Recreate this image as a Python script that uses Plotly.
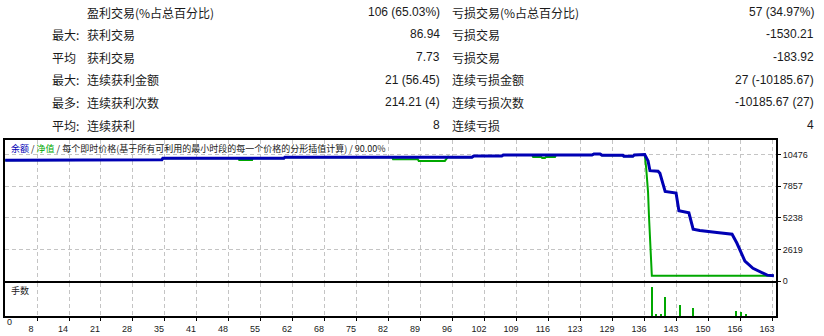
import plotly.graph_objects as go
import numpy as np

W, H = 824, 336

# ---- statistics table (top) ----
row_prefix = ["", "最大:", "平均", "最大:", "最多:", "平均:"]
win_labels = ["盈利交易(%占总百分比)", "获利交易", "获利交易", "连续获利金额", "连续获利次数", "连续获利"]
win_values = ["106 (65.03%)", "86.94", "7.73", "21 (56.45)", "214.21 (4)", "8"]
loss_labels = ["亏损交易(%占总百分比)", "亏损交易", "亏损交易", "连续亏损金额", "连续亏损次数", "连续亏损"]
loss_values = ["57 (34.97%)", "-1530.21", "-183.92", "27 (-10185.67)", "-10185.67 (27)", "4"]

# ---- balance curve (trade number, balance) ----
balance_trade = [1.3, 34.3, 34.5, 60.0, 60.2, 82.8, 83.0, 94.6, 95.0, 99.6, 100.0, 105.9, 106.2,
                 124.9, 125.3, 126.6, 127.0, 131.4, 131.6, 133.5, 133.8, 135.6, 136.0, 136.7,
                 137.1, 138.8, 139.2, 140.3, 142.6, 143.2, 145.3, 146.2, 147.6, 151.2, 154.4,
                 155.4, 156.1, 157.1, 158.8, 160.3, 161.8, 163.2]
balance_value = [10000, 10040, 10170, 10170, 10250, 10260, 10300, 10300, 10250, 10250, 10360, 10360, 10440,
                 10440, 10520, 10520, 10410, 10410, 10330, 10330, 10440, 10460, 10476, 9950,
                 9140, 9100, 8920, 7420, 7290, 5820, 5650, 4290, 4185, 4020, 3880,
                 3150, 2470, 1660, 1060, 760, 490, 430]

# ---- equity curve (trade number, equity) ----
equity_trade = [1.3, 34.3, 34.5, 50.5, 50.6, 53.3, 53.4, 60.0, 60.2, 82.8, 83.0, 88.2, 88.4, 93.9,
                94.6, 95.0, 99.6, 100.0, 105.9, 106.2, 112.3, 112.5, 114.2, 114.4, 115.0, 115.2,
                117.1, 117.3, 124.9, 125.3, 126.6, 127.0, 131.4, 131.6, 133.5, 133.8, 135.6,
                136.0, 136.3, 136.7, 136.9, 137.1, 137.3, 137.5, 161.8, 163.2]
equity_value = [10000, 10040, 10170, 10170, 10030, 10030, 10170, 10170, 10250, 10260, 10080, 10080, 9950, 9950,
                10300, 10250, 10250, 10360, 10360, 10440, 10440, 10280, 10280, 10200, 10200, 10280,
                10280, 10440, 10440, 10520, 10520, 10410, 10410, 10330, 10330, 10440, 10460,
                10476, 9400, 7370, 5330, 3450, 1520, 430, 430, 430]

# ---- lots (volume) ----
lot_trade = [137.5, 138.5, 139.4, 140.4, 143.4, 146.2, 155.3, 156.3, 157.3]
lot_value = [0.81, 0.04, 0.04, 0.52, 0.32, 0.22, 0.14, 0.10, 0.04]

# ---- axis labels ----
x_tick_labels = ["8", "14", "21", "28", "35", "41", "48", "55", "62", "68", "75", "82", "89",
                 "96", "102", "109", "116", "123", "129", "136", "143", "150", "156", "163"]
y_tick_values = [0, 2619, 5238, 7857, 10476]

legend_balance = "余额"
legend_equity = "净值"
legend_rest = "每个即时价格(基于所有可利用的最小时段的每一个价格的分形插值计算)"
legend_quality = "90.00%"
lots_title = "手数"

BLUE = "#0000b4"
GREEN = "#00a800"
TXT = "#1a1a1a"
GRID = "#c4c4c4"
LATIN = "Liberation Sans, Arial, Noto Sans CJK SC, sans-serif"
CJK = "Noto Sans CJK SC, Liberation Sans, sans-serif"


def fx(px):
    return px / W


def fy(py):
    return 1 - py / H


x_tickvals = list(np.linspace(float(x_tick_labels[0]), float(x_tick_labels[-1]), len(x_tick_labels)))
x_range = [1.26, 163.65]

fig = go.Figure()
fig.add_trace(go.Scatter(x=equity_trade, y=equity_value, mode="lines",
                         line=dict(color=GREEN, width=2), xaxis="x", yaxis="y", hoverinfo="skip"))
fig.add_trace(go.Scatter(x=balance_trade, y=balance_value, mode="lines",
                         line=dict(color=BLUE, width=3), xaxis="x", yaxis="y", hoverinfo="skip"))
fig.add_trace(go.Bar(x=lot_trade, y=lot_value, width=0.32, marker=dict(color=GREEN, line=dict(width=0)),
                     xaxis="x2", yaxis="y2", hoverinfo="skip"))

annotations = []
rows_y = [12.5, 35, 58, 81, 104, 127]
for i in range(6):
    yy = fy(rows_y[i])
    if row_prefix[i]:
        annotations.append(dict(text=row_prefix[i], x=fx(81 if row_prefix[i].endswith(":") else 78), y=yy,
                                xanchor="right", yanchor="middle", font=dict(family=CJK, size=12, color=TXT)))
    annotations.append(dict(text=win_labels[i], x=fx(85), y=yy, xanchor="left", yanchor="middle",
                            font=dict(family=CJK, size=12, color=TXT)))
    annotations.append(dict(text=win_values[i], x=fx(442), y=yy, xanchor="right", yanchor="middle",
                            font=dict(family=LATIN, size=12, color=TXT)))
    annotations.append(dict(text=loss_labels[i], x=fx(450), y=yy, xanchor="left", yanchor="middle",
                            font=dict(family=CJK, size=12, color=TXT)))
    annotations.append(dict(text=loss_values[i], x=fx(816), y=yy, xanchor="right", yanchor="middle",
                            font=dict(family=LATIN, size=12, color=TXT)))

legend_text = (f'<span style="color:{BLUE}">{legend_balance}</span> / '
               f'<span style="color:{GREEN}">{legend_equity}</span> / {legend_rest} / {legend_quality}')
annotations.append(dict(text=legend_text, x=fx(9), y=fy(151), xanchor="left", yanchor="middle",
                        font=dict(family=CJK, size=9, color=TXT)))
annotations.append(dict(text=lots_title, x=fx(9), y=fy(295), xanchor="left", yanchor="middle",
                        font=dict(family=CJK, size=9, color=TXT)))
annotations.append(dict(text="0", x=fx(5), y=fy(327), xanchor="left", yanchor="middle",
                        font=dict(family=LATIN, size=9, color=TXT)))

for a in annotations:
    a.update(xref="paper", yref="paper", showarrow=False)

axis_common = dict(showline=True, mirror=True, linecolor="black", linewidth=2, zeroline=False)
grid_common = dict(showgrid=True, gridcolor=GRID, griddash="4px,3px", gridwidth=1)

fig.update_layout(
    width=W, height=H, margin=dict(l=0, r=0, t=0, b=0),
    paper_bgcolor="white", plot_bgcolor="white", showlegend=False,
    annotations=annotations, bargap=0,
    xaxis=dict(domain=[fx(5), fx(776)], range=x_range, anchor="y", tickvals=x_tickvals,
               showticklabels=False, ticks="", **grid_common, **axis_common),
    yaxis=dict(domain=[fy(285.3), fy(142.5)], range=[0, 11650], anchor="x", side="right",
               tickvals=y_tick_values, ticktext=[str(v) for v in y_tick_values],
               ticks="outside", ticklen=3, tickcolor="black",
               tickfont=dict(family=LATIN, size=9, color=TXT), **grid_common, **axis_common),
    xaxis2=dict(domain=[fx(5), fx(776)], range=x_range, anchor="y2", tickvals=x_tickvals,
                ticktext=x_tick_labels, ticks="outside", ticklen=3, tickcolor="black",
                ticklabelshift=-6, tickfont=dict(family=LATIN, size=9, color=TXT),
                **grid_common, **axis_common),
    yaxis2=dict(domain=[fy(321), fy(287.5)], range=[0, 0.92], anchor="x2", showgrid=False,
                showticklabels=False, ticks="", **axis_common),
)

fig.write_html("out.html")
